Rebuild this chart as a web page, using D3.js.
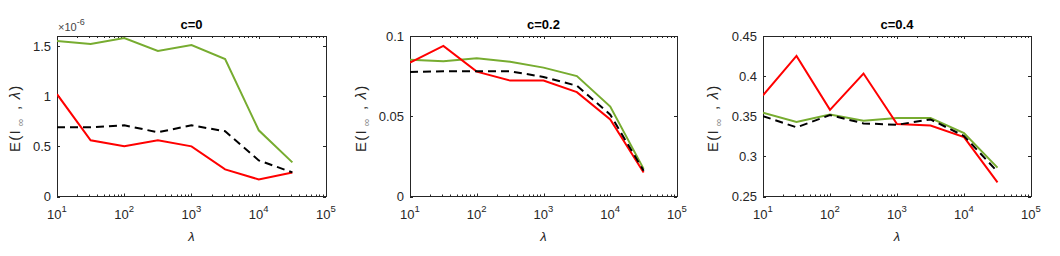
<!DOCTYPE html>
<html><head><meta charset="utf-8">
<script src="https://cdn.jsdelivr.net/npm/d3@7"></script>
<style>
html,body{margin:0;padding:0;background:#fff;}
svg{display:block;font-family:"Liberation Sans",Arial,Helvetica,sans-serif;}
</style></head>
<body><svg id="chart" width="1060" height="256"></svg>
<script>
// ---- data ----
const lambdas = [10, 31.62, 100, 316.2, 1000, 3162, 10000, 31623];
const titles = ["c=0", "c=0.2", "c=0.4"];
// panel 1 values in units of 1e-6
const green0 = [1.55, 1.52, 1.58, 1.45, 1.51, 1.37, 0.66, 0.34];
const red0   = [1.02, 0.56, 0.50, 0.56, 0.50, 0.27, 0.17, 0.24];
const black0 = [0.69, 0.69, 0.71, 0.64, 0.71, 0.65, 0.36, 0.24];
const green1 = [0.0852, 0.0842, 0.0862, 0.0840, 0.0803, 0.0750, 0.0560, 0.0172];
const red1   = [0.0834, 0.0938, 0.0778, 0.0722, 0.0722, 0.0650, 0.0480, 0.0150];
const black1 = [0.0776, 0.0780, 0.0780, 0.0780, 0.0745, 0.0690, 0.0510, 0.0160];
const green2 = [0.3545, 0.3430, 0.3523, 0.3445, 0.3477, 0.3477, 0.3290, 0.2860];
const red2   = [0.3760, 0.4252, 0.3580, 0.4032, 0.3403, 0.3385, 0.3241, 0.2675];
const black2 = [0.3502, 0.3362, 0.3514, 0.3411, 0.3394, 0.3460, 0.3254, 0.2810];
const yTicks0 = [0, 0.5, 1, 1.5];
const yTicks1 = [0, 0.05, 0.1];
const yTicks2 = [0.25, 0.3, 0.35, 0.4, 0.45];
const yDomains = [[0, 1.6], [0, 0.1], [0.25, 0.45]];
const xExps = [1, 2, 3, 4, 5];

// ---- layout ----
const panels = [
  {left: 57,  right: 326, green: green0, red: red0, black: black0, ticks: yTicks0, ylabX: 15, mult: true},
  {left: 410, right: 677, green: green1, red: red1, black: black1, ticks: yTicks1, ylabX: 361, mult: false},
  {left: 763, right: 1031, green: green2, red: red2, black: black2, ticks: yTicks2, ylabX: 713, mult: false}
];
const axTop = 36, axBottom = 196.5;
const axisCol = "#262626";
const svg = d3.select("#chart");

panels.forEach((p, i) => {
  const x = d3.scaleLog().domain([10, 1e5]).range([p.left, p.right]);
  const y = d3.scaleLinear().domain(yDomains[i]).range([axBottom, axTop]);
  const g = svg.append("g");

  g.append("rect").attr("x", p.left).attr("y", axTop)
    .attr("width", p.right - p.left).attr("height", axBottom - axTop)
    .attr("fill", "#fff").attr("stroke", axisCol).attr("stroke-width", 1).attr("shape-rendering","crispEdges");

  const minors = [];
  for (let e = 1; e < 5; e++) for (let m = 2; m <= 9; m++) minors.push(m * Math.pow(10, e));
  minors.forEach(v => {
    const xx = Math.round(x(v)) + 0.5;
    g.append("line").attr("x1", xx).attr("x2", xx).attr("y1", axBottom).attr("y2", axBottom - 2).attr("stroke", axisCol);
    g.append("line").attr("x1", xx).attr("x2", xx).attr("y1", axTop).attr("y2", axTop + 2).attr("stroke", axisCol);
  });
  xExps.forEach(e => {
    const v = Math.pow(10, e);
    const xx = Math.round(x(v)) + 0.5;
    g.append("line").attr("x1", xx).attr("x2", xx).attr("y1", axBottom).attr("y2", axBottom - 3).attr("stroke", axisCol);
    g.append("line").attr("x1", xx).attr("x2", xx).attr("y1", axTop).attr("y2", axTop + 3).attr("stroke", axisCol);
    const t = g.append("text").attr("x", x(v)).attr("y", 219).attr("text-anchor", "middle")
      .attr("font-size", 13).attr("fill", axisCol);
    t.append("tspan").text("10");
    t.append("tspan").attr("dy", -7).attr("font-size", 9.5).text(e);
  });

  p.ticks.forEach(v => {
    const yy = Math.round(y(v)) + 0.5;
    g.append("line").attr("x1", p.left).attr("x2", p.left + 3).attr("y1", yy).attr("y2", yy).attr("stroke", axisCol);
    g.append("line").attr("x1", p.right).attr("x2", p.right - 3).attr("y1", yy).attr("y2", yy).attr("stroke", axisCol);
    g.append("text").attr("x", p.left - 6).attr("y", y(v) + 4.5).attr("text-anchor", "end")
      .attr("font-size", 13).attr("fill", axisCol).text(String(v));
  });

  if (p.mult) {
    const t = g.append("text").attr("x", p.left + 1).attr("y", 31).attr("font-size", 11).attr("fill", "#444");
    t.append("tspan").text("\u00d710");
    t.append("tspan").attr("dy", -6).attr("font-size", 9).text("-6");
  }

  g.append("text").attr("x", (p.left + p.right) / 2).attr("y", 29).attr("text-anchor", "middle")
    .attr("font-size", 13).attr("font-weight", "bold").attr("fill", "#000").text(titles[i]);

  g.append("text").attr("x", (p.left + p.right) / 2).attr("y", 241).attr("text-anchor", "middle")
    .attr("font-size", 13).attr("font-style", "italic").attr("fill", axisCol).text("\u03bb");

  const yl = g.append("text").attr("transform", `translate(${p.ylabX},${(axTop + axBottom) / 2 + 2}) rotate(-90)`)
    .attr("text-anchor", "middle").attr("dy", "0.35em").attr("font-size", 15)
    .attr("letter-spacing", 1.2).attr("fill", axisCol);
  yl.append("tspan").text("E(I");
  yl.append("tspan").attr("dx", 3).attr("dy", 4).attr("font-size", 10.5).attr("fill", "#888").text("\u221e");
  yl.append("tspan").attr("dx", 2).attr("dy", -4).text(" , ");
  yl.append("tspan").attr("font-style", "italic").text("\u03bb");
  yl.append("tspan").text(")");

  const line = d3.line().x((d, j) => x(lambdas[j])).y(d => y(d));
  const clip = "clip" + i;
  svg.append("clipPath").attr("id", clip).append("rect").attr("x", p.left).attr("y", axTop - 1)
    .attr("width", p.right - p.left).attr("height", axBottom - axTop + 2);
  const lg = g.append("g").attr("clip-path", `url(#${clip})`);
  lg.append("path").datum(p.green).attr("d", line).attr("fill", "none").attr("stroke", "#77AC30").attr("stroke-width", 2);
  lg.append("path").datum(p.red).attr("d", line).attr("fill", "none").attr("stroke", "#FF0000").attr("stroke-width", 2);
  lg.append("path").datum(p.black).attr("d", line).attr("fill", "none").attr("stroke", "#000").attr("stroke-width", 2).attr("stroke-dasharray", "8,5");
});
</script></body></html>
